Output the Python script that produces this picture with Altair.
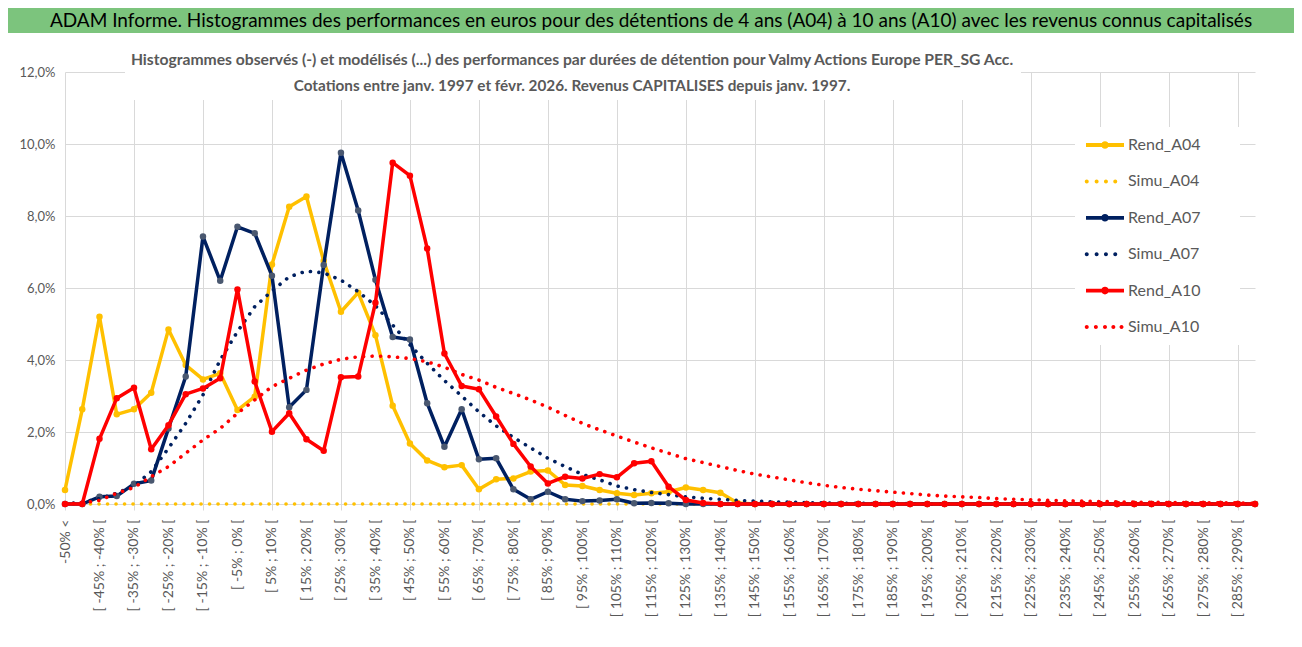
import json
import altair as alt
import pandas as pd

# ---------------- data (values in %) ----------------
categories = ["-50% <"] + [f"[ {lo}% ; {lo + 5}% [" for lo in range(-50, 295, 5)]

series_names = ["Rend_A04", "Simu_A04", "Rend_A07", "Simu_A07", "Rend_A10", "Simu_A10"]

rend_a04 = [0.39, 2.63, 5.20, 2.49, 2.63, 3.09, 4.85, 3.86, 3.46, 3.63,
            2.61, 2.98, 6.65, 8.26, 8.54, 6.75, 5.34, 5.87, 4.69, 2.73,
            1.68, 1.21, 1.02, 1.08, 0.41, 0.69, 0.71, 0.90, 0.93, 0.53,
            0.50, 0.39, 0.30, 0.25, 0.30, 0.34, 0.46, 0.39, 0.31, 0.03,
            0.00, 0.00, 0.00, 0.00, 0.00, 0.00, 0.00, 0.00, 0.00, 0.00,
            0.00, 0.00, 0.00, 0.00, 0.00, 0.00, 0.00, 0.00, 0.00, 0.00,
            0.00, 0.00, 0.00, 0.00, 0.00, 0.00, 0.00, 0.00, 0.00, 0.00]

simu_a04 = [0.00, 0.00, 0.00, 0.00, 0.00, 0.00, 0.00, 0.00, 0.00, 0.00,
            0.00, 0.00, 0.00, 0.00, 0.00, 0.00, 0.00, 0.00, 0.00, 0.00,
            0.00, 0.00, 0.00, 0.00, 0.00, 0.00, 0.00, 0.00, 0.00, 0.00,
            0.00, 0.00, 0.00, 0.00, 0.00, 0.00, 0.00, 0.00, 0.00, 0.00,
            0.00, 0.00, 0.00, 0.00, 0.00, 0.00, 0.00, 0.00, 0.00, 0.00,
            0.00, 0.00, 0.00, 0.00, 0.00, 0.00, 0.00, 0.00, 0.00, 0.00,
            0.00, 0.00, 0.00, 0.00, 0.00, 0.00, 0.00, 0.00, 0.00, 0.00]

rend_a07 = [0.00, 0.00, 0.20, 0.22, 0.56, 0.65, 2.10, 3.54, 7.43, 6.20,
            7.70, 7.52, 6.34, 2.69, 3.17, 6.64, 9.76, 8.15, 6.23, 4.64,
            4.57, 2.80, 1.59, 2.63, 1.24, 1.27, 0.41, 0.13, 0.34, 0.13,
            0.08, 0.10, 0.13, 0.02, 0.03, 0.02, 0.00, 0.00, 0.00, 0.00,
            0.00, 0.00, 0.00, 0.00, 0.00, 0.00, 0.00, 0.00, 0.00, 0.00,
            0.00, 0.00, 0.00, 0.00, 0.00, 0.00, 0.00, 0.00, 0.00, 0.00,
            0.00, 0.00, 0.00, 0.00, 0.00, 0.00, 0.00, 0.00, 0.00, 0.00]

simu_a07 = [0.00, 0.05, 0.15, 0.30, 0.50, 0.90, 1.55, 2.24, 3.03, 4.00,
            4.79, 5.48, 5.92, 6.31, 6.47, 6.42, 6.22, 5.90, 5.51, 4.97,
            4.42, 3.91, 3.43, 3.00, 2.56, 2.17, 1.85, 1.56, 1.27, 1.04,
            0.82, 0.67, 0.50, 0.40, 0.32, 0.26, 0.20, 0.16, 0.13, 0.10,
            0.08, 0.06, 0.05, 0.04, 0.03, 0.02, 0.02, 0.01, 0.01, 0.01,
            0.00, 0.00, 0.00, 0.00, 0.00, 0.00, 0.00, 0.00, 0.00, 0.00,
            0.00, 0.00, 0.00, 0.00, 0.00, 0.00, 0.00, 0.00, 0.00, 0.00]

rend_a10 = [0.00, 0.00, 1.81, 2.94, 3.23, 1.52, 2.19, 3.05, 3.21, 3.49,
            5.96, 3.40, 2.01, 2.52, 1.80, 1.48, 3.52, 3.54, 5.59, 9.48,
            9.12, 7.10, 4.18, 3.28, 3.19, 2.43, 1.67, 1.04, 0.57, 0.76,
            0.71, 0.83, 0.74, 1.13, 1.19, 0.48, 0.11, 0.03, 0.00, 0.00,
            0.00, 0.00, 0.00, 0.00, 0.00, 0.00, 0.00, 0.00, 0.00, 0.00,
            0.00, 0.00, 0.00, 0.00, 0.00, 0.00, 0.00, 0.00, 0.00, 0.00,
            0.00, 0.00, 0.00, 0.00, 0.00, 0.00, 0.00, 0.00, 0.00, 0.00]

simu_a10 = [0.00, 0.03, 0.10, 0.30, 0.46, 0.76, 1.04, 1.41, 1.78, 2.10,
            2.52, 2.89, 3.26, 3.49, 3.72, 3.89, 4.02, 4.09, 4.11, 4.09,
            4.04, 3.95, 3.80, 3.60, 3.44, 3.24, 3.07, 2.89, 2.69, 2.46,
            2.24, 2.06, 1.89, 1.72, 1.56, 1.41, 1.26, 1.15, 1.04, 0.93,
            0.83, 0.75, 0.67, 0.59, 0.52, 0.46, 0.41, 0.37, 0.33, 0.29,
            0.25, 0.22, 0.20, 0.18, 0.15, 0.13, 0.12, 0.10, 0.09, 0.08,
            0.07, 0.06, 0.05, 0.05, 0.04, 0.04, 0.03, 0.03, 0.03, 0.02]

y_ticks = [0, 2, 4, 6, 8, 10, 12]

header_text = ("ADAM Informe. Histogrammes des performances en euros pour des détentions "
               "de 4 ans (A04) à 10 ans (A10) avec les revenus connus capitalisés")
subtitle_1 = ("Histogrammes observés (-) et modélisés (...) des performances par durées de "
              "détention pour Valmy Actions Europe PER_SG Acc.")
subtitle_2 = "Cotations entre janv. 1997 et févr. 2026. Revenus CAPITALISES depuis janv. 1997."

# ---------------- styling ----------------
YELLOW, NAVY, RED, SLATE = "#FFC000", "#002060", "#FF0000", "#4a5870"
GRAY_TXT, GRID = "#595959", "#d9d9d9"
FONT = "Lato"
W, H = 1190, 432

values_by_series = {
    "Rend_A04": rend_a04, "Simu_A04": simu_a04,
    "Rend_A07": rend_a07, "Simu_A07": simu_a07,
    "Rend_A10": rend_a10, "Simu_A10": simu_a10,
}
rows = []
for s in series_names:
    for c, v in zip(categories, values_by_series[s]):
        rows.append({"cat": c, "series": s, "value": v})
df = pd.DataFrame(rows)

cats_js = json.dumps(categories)
every4 = f"indexof({cats_js}, datum.value) % 4 === 0"

x_enc = alt.X(
    "cat:N",
    sort=categories,
    scale=alt.Scale(type="point", domain=categories, padding=0),
    axis=alt.Axis(
        title=None, values=categories[::2], labelAngle=270, labelAlign="right",
        labelBaseline="middle", labelFontSize=14, labelFont=FONT, labelColor=GRAY_TXT,
        labelPadding=9, labelOverlap=False, grid=True, gridColor=GRID,
        gridOpacity={"condition": {"test": every4, "value": 1}, "value": 0},
        ticks=True, tickSize=6, tickColor=GRID,
        tickOpacity={"condition": {"test": every4, "value": 1}, "value": 0},
        domainColor=GRID, domainWidth=1,
    ),
)
y_enc = alt.Y(
    "value:Q",
    scale=alt.Scale(domain=[0, 12], nice=False, zero=True),
    axis=alt.Axis(
        title=None, values=y_ticks, domain=False, ticks=False, grid=True, gridColor=GRID,
        labelExpr="replace(format(datum.value, '.1f'), '.', ',') + '%'",
        labelFontSize=13, labelFont=FONT, labelColor=GRAY_TXT, labelPadding=10,
    ),
)

base = alt.Chart(df)
one = alt.Chart(pd.DataFrame({"t": [""]}))

layers = []
# decorations: header band, white boxes behind subtitle and legend
layers.append(one.mark_rect(color="#7CC47D").encode(
    x=alt.value(-57), x2=alt.value(W + 39), y=alt.value(-64), y2=alt.value(-39)))
layers.append(one.mark_rect(color="white").encode(
    x=alt.value(60), x2=alt.value(956), y=alt.value(-24), y2=alt.value(28)))
layers.append(one.mark_rect(color="white").encode(
    x=alt.value(1010), x2=alt.value(1175), y=alt.value(55), y2=alt.value(273)))

line_color = {"Rend_A04": YELLOW, "Simu_A04": YELLOW, "Rend_A07": NAVY,
              "Simu_A07": NAVY, "Rend_A10": RED, "Simu_A10": RED}
marker_color = {"Rend_A04": YELLOW, "Rend_A07": SLATE, "Rend_A10": RED}

for s in series_names:
    sub = base.transform_filter(alt.datum.series == s)
    if s.startswith("Rend"):
        layers.append(sub.mark_line(color=line_color[s], strokeWidth=3.5,
                                    strokeJoin="round").encode(x=x_enc, y=y_enc))
        layers.append(sub.mark_point(filled=True, color=marker_color[s], size=42,
                                     opacity=1).encode(x=x_enc, y=y_enc))
    else:
        layers.append(sub.mark_line(color=line_color[s], strokeWidth=3.6,
                                    strokeDash=[0.1, 8.4], strokeCap="round").encode(
            x=x_enc, y=y_enc))

# texts
layers.append(alt.Chart(pd.DataFrame({"t": [header_text]})).mark_text(
    font=FONT, fontSize=19, color="black", align="center", baseline="middle").encode(
    text="t:N", x=alt.value(586), y=alt.value(-51)))
layers.append(alt.Chart(pd.DataFrame({"t": [subtitle_1]})).mark_text(
    font=FONT, fontSize=15.7, fontWeight="bold", color=GRAY_TXT, align="center",
    baseline="middle").encode(text="t:N", x=alt.value(507), y=alt.value(-12)))
layers.append(alt.Chart(pd.DataFrame({"t": [subtitle_2]})).mark_text(
    font=FONT, fontSize=15.3, fontWeight="bold", color=GRAY_TXT, align="center",
    baseline="middle").encode(text="t:N", x=alt.value(507), y=alt.value(14)))


# legend-only layer: custom symbols (line + marker, or dotted line)
def dot(xc, r):
    return f"M{xc + r},0A{r},{r},0,1,1,{xc - r},0A{r},{r},0,1,1,{xc + r},0Z"


rend_path = "M-1,-0.1L1,-0.1L1,0.1L-1,0.1Z" + dot(0, 0.2)
simu4 = "".join(dot(xc, 0.105) for xc in [-0.96, -0.44, 0.05, 0.54])
simu5 = "".join(dot(xc, 0.105) for xc in [-0.96, -0.48, 0.0, 0.44, 0.87])
shape_range = [rend_path, simu4, rend_path, simu4, rend_path, simu5]
color_range = [YELLOW, YELLOW, NAVY, NAVY, RED, RED]

legend = alt.Legend(
    orient="none", legendX=1021, legendY=54, title=None, labelFont=FONT,
    labelFontSize=16, labelColor=GRAY_TXT, symbolSize=1444, padding=0,
    rowPadding=9.4, labelOffset=4, symbolStrokeWidth=0, symbolOpacity=1,
)
layers.append(base.transform_filter("datum.value < -100").mark_point(
    filled=True, opacity=1).encode(
    color=alt.Color("series:N", scale=alt.Scale(domain=series_names, range=color_range),
                    legend=legend),
    shape=alt.Shape("series:N", scale=alt.Scale(domain=series_names, range=shape_range),
                    legend=legend),
))

chart = alt.layer(*layers).properties(
    width=W, height=H,
    padding={"left": 57, "top": 64, "right": 39, "bottom": 135},
    autosize=alt.AutoSizeParams(type="none"),
    background="white",
).configure_view(stroke=None)

chart.save("out.html", embed_options={"renderer": "svg", "actions": False})
